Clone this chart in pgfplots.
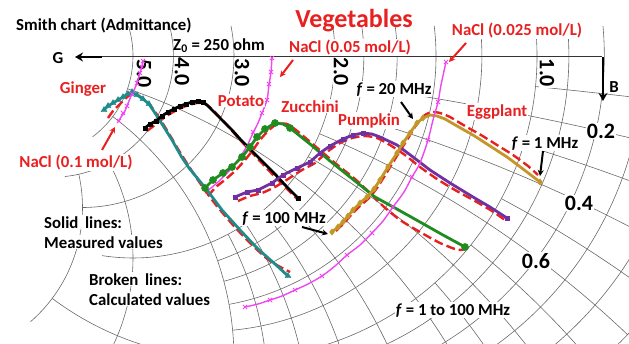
\documentclass[border=0pt]{standalone}
\usepackage{pgfplots}
\pgfplotsset{compat=1.18}
\usepackage{fontspec}
\setmainfont{Carlito}
\usetikzlibrary{arrows.meta}

\definecolor{tealc}{RGB}{31,139,139}
\definecolor{zucc}{RGB}{32,140,32}
\definecolor{pump}{RGB}{112,48,160}
\definecolor{eggc}{RGB}{196,150,40}
\definecolor{calc}{RGB}{232,32,32}
\definecolor{nacl}{RGB}{240,70,240}
\definecolor{labred}{RGB}{232,32,32}
\definecolor{gridc}{RGB}{105,105,105}

\tikzset{
  gridl/.style={draw=gridc, line width=0.6pt},
  lab/.style={font=\fontsize{16.8}{19}\selectfont\bfseries, inner sep=1pt, fill=white},
  num/.style={font=\fontsize{22}{24}\selectfont\bfseries, inner sep=1pt, fill=white},
}

% Smith chart (admittance): centre at (537,56), unit radius 606 (1 unit = 1pt)
% constant-G circle, from 30pt above the real axis down to susceptance #2
\newcommand\garc[2]{%
  \draw[gridl] (axis cs:537,56)
    ++(canvas cs:x={(-606*(#1)+606*cos(asin(30*(1+(#1))/606)))/(1+(#1))*1pt}, y=30pt)
    arc[start angle={asin(30*(1+(#1))/606)}, end angle={-2*atan((#2)/(1+(#1)))}, radius={606/(1+(#1))*1pt}];}
% constant-B arc #1, from conductance #2 to conductance #3
\newcommand\barc[3]{%
  \draw[gridl] (axis cs:537,56)
    ++(canvas cs:x={(-606+606/(#1)*cos(90-2*atan((#1)/(1+(#2)))))*1pt}, y={606/(#1)*(sin(90-2*atan((#1)/(1+(#2))))-1)*1pt})
    arc[start angle={90-2*atan((#1)/(1+(#2)))}, end angle={90-2*atan((#1)/(1+(#3)))}, radius={606/(#1)*1pt}];}

\begin{document}
\begin{tikzpicture}
\begin{axis}[x=1pt, y=1pt, xmin=0, xmax=629, ymin=0, ymax=343, y dir=reverse,
  hide axis, clip=true]
\coordinate (LL) at (axis cs:0,343);
\coordinate (UR) at (axis cs:629,0);

% ---- chart grid ----
\garc{5}{3} \garc{4}{4.5} \garc{3}{4} \garc{2}{3.5}
\garc{1.8}{2} \garc{1.6}{2} \garc{1.4}{2} \garc{1.2}{2}
\garc{1}{4}
\garc{0.9}{2} \garc{0.8}{2} \garc{0.7}{2} \garc{0.6}{2} \garc{0.5}{2}
\barc{0.1}{0.5}{1} \barc{0.2}{0.5}{1.6} \barc{0.3}{0.5}{1} \barc{0.4}{0.5}{2}
\barc{0.5}{0.5}{1} \barc{0.6}{0.5}{2} \barc{0.7}{0.5}{1} \barc{0.8}{0.5}{2}
\barc{0.9}{0.5}{1} \barc{1}{0.5}{5}
\barc{1.2}{0.5}{2} \barc{1.4}{0.5}{2} \barc{1.6}{0.5}{2} \barc{1.8}{0.5}{2}
\barc{2}{0.5}{5} \barc{3}{0.5}{4} \barc{4}{0.5}{4}

% real axis and G / B arrows
\draw[black!80, line width=0.8pt] (axis cs:100,56) -- (axis cs:602,56);
\draw[black, line width=2.6pt, -{Stealth[length=8pt,width=9pt]}] (axis cs:102,57) -- (axis cs:75,57);
\draw[black, line width=2.6pt, -{Stealth[length=8pt,width=9pt]}] (axis cs:603,57) -- (axis cs:603,101);

% scale labels
\node[num, rotate=-90] at (axis cs:144,74) {5.0};
\node[num, rotate=-90] at (axis cs:182,72) {4.0};
\node[num, rotate=-90] at (axis cs:242,73) {3.0};
\node[num, rotate=-90] at (axis cs:341,72) {2.0};
\node[num, rotate=-90] at (axis cs:547,73) {1.0};
\node[num, anchor=base] at (axis cs:601,138) {0.2};
\node[num, anchor=base] at (axis cs:579,210) {0.4};
\node[num, anchor=base] at (axis cs:536,268) {0.6};

% ---- NaCl 0.05 mol/L ----
\addplot[nacl, line width=1.4pt, smooth] coordinates {(272,57) (271,72) (269,85) (267,100) (262,113) (258,123) (253,133) (247,146) (240,157) (230,170) (218,182) (205,193)};
\addplot[nacl, only marks, mark=x, mark size=3pt, line width=1pt] coordinates {(272,58) (271,72) (269,84) (267,100) (262,113) (253,132) (247,147)};

% ---- calculated values (broken lines) ----
\addplot[calc, line width=2.4pt, dash pattern=on 9pt off 4pt, smooth, tension=0.4] coordinates {(108,118) (113,111) (119,105) (125,99) (130,95) (136,94) (143,99) (150,105) (158,116) (168,132) (178,149) (190,168) (202,186) (216,205) (233,225) (251,244) (270,261) (290,272)};
\addplot[calc, line width=2.4pt, dash pattern=on 9pt off 4pt, smooth, tension=0.4] coordinates {(147,131) (155,125) (165,117) (175,111) (186,106) (197,103) (205,104) (212,109) (226,124) (242,142) (258,159) (275,177) (290,192) (297,199)};
\addplot[calc, line width=2.4pt, dash pattern=on 9pt off 4pt, smooth, tension=0.4] coordinates {(208,196) (216,187) (226,179) (236,170) (245,160) (253,150) (260,140) (268,131) (277,124) (287,124) (296,130) (315,146) (335,163) (355,179) (370,193) (383,206) (400,220) (420,232) (440,243) (458,250) (465,249)};
\addplot[calc, line width=2.4pt, dash pattern=on 9pt off 4pt, smooth, tension=0.4] coordinates {(238,201) (250,196) (262,193) (275,187) (288,179) (302,170) (315,163) (327,152) (340,143) (352,138) (365,136) (377,138) (390,145) (405,155) (420,167) (437,179) (455,190) (475,201) (492,211) (505,220)};
\addplot[calc, line width=2.4pt, dash pattern=on 9pt off 4pt, smooth, tension=0.4] coordinates {(336,231) (344,223) (352,214) (360,206) (369,198) (377,188) (384,177) (392,164) (400,151) (407,140) (413,130) (419,121) (425,115) (432,112) (440,113) (450,117) (465,126) (481,135) (497,145) (513,155) (528,166) (538,175)};

% ---- measured values (solid lines) ----
% Ginger
\addplot[tealc, line width=2.8pt] coordinates {(104,110) (108,106) (113,103) (118,100) (123,97) (128,94) (132,92) (137,95) (143,99) (149,104) (153,110) (162,124) (172,140) (181,156) (189,168) (198,179) (207,190) (222,210) (240,230) (258,249) (275,264) (288,276)};
\addplot[tealc, only marks, mark=triangle*, mark size=3.4pt] coordinates {(104,110) (108,106) (113,103) (118,100) (123,97) (128,94) (132,92) (137,95) (143,99) (149,104) (288,276)};
% Potato
\addplot[black, line width=2.8pt] coordinates {(145,128) (150,124) (156,121) (162,116) (168,112) (174,109) (180,106) (186,104) (192,102) (198,101) (203,102) (207,105) (215,113) (223,121) (232,130) (240,139) (250,149) (262,161) (274,173) (286,186) (298,198)};
\addplot[black, only marks, mark=square*, mark size=2.2pt] coordinates {(145,128) (150,124) (156,121) (162,116) (168,112) (174,109) (180,106) (186,104) (192,102) (198,101) (203,102) (298,198)};
% Zucchini
\addplot[zucc, line width=2.8pt] coordinates {(205,188) (213,180) (223,173) (232,167) (242,157) (250,147) (257,137) (265,129) (275,123) (283,124) (290,128) (310,144) (330,161) (350,177) (365,189) (375,197) (395,208) (420,222) (443,235) (465,247)};
\addplot[zucc, only marks, mark=*, mark size=3.6pt] coordinates {(205,188) (213,180) (223,173) (232,167) (242,157) (250,147) (257,137) (265,129) (275,123) (290,128) (465,247)};
% Pumpkin
\addplot[pump, line width=2.8pt] coordinates {(235,197) (247,192) (258,190) (272,183) (283,175) (297,168) (310,162) (320,153) (330,146) (343,139) (353,135) (363,133) (372,134) (380,137) (397,145) (413,157) (430,170) (450,183) (473,197) (490,207) (507,218)};
\addplot[pump, only marks, mark=square*, mark size=2.3pt] coordinates {(235,197) (247,192) (258,190) (272,183) (283,175) (297,168) (310,162) (320,153) (330,146) (343,139) (353,135) (363,133) (507,218)};
% Eggplant
\addplot[eggc, line width=2.8pt] coordinates {(332,232) (338,227) (343,222) (348,216) (353,210) (360,203) (367,197) (374,189) (380,180) (388,167) (397,153) (403,143) (410,133) (417,123) (423,118) (430,115) (437,116) (445,119) (457,126) (473,135) (490,146) (507,157) (523,169) (540,182)};
\addplot[eggc, only marks, mark=diamond*, mark size=3.2pt] coordinates {(332,232) (338,227) (343,222) (348,216) (353,210) (360,203) (367,197) (374,189) (380,180) (388,167) (397,153) (403,143) (410,133) (417,123) (423,118) (540,182)};

% ---- NaCl 0.1 and 0.025 mol/L ----
\addplot[nacl, line width=1.4pt, smooth] coordinates {(143,60) (142,66) (140,73) (137,83) (135,88) (132,94) (129,101) (127,106) (124,113) (121,117) (118,122)};
\addplot[nacl, only marks, mark=x, mark size=3pt, line width=1pt] coordinates {(143,61) (142,67) (140,73) (137,83) (132,94) (127,106) (123,113) (119,121)};
\addplot[nacl, line width=1.4pt, smooth] coordinates {(446,62) (441,85) (438,102) (433,120) (428,140) (420,163) (412,177) (404,192) (393,207) (383,221) (372,233) (360,245) (347,255) (335,266) (322,276) (308,284) (295,290) (282,296) (270,300) (258,304) (245,307)};
\addplot[nacl, only marks, mark=x, mark size=3pt, line width=1pt] coordinates {(446,62) (438,102) (428,140) (412,177) (393,207) (372,233) (347,255) (322,276) (295,290) (270,300) (245,307)};

% ---- titles and labels ----
\node[lab, anchor=base west, fill=none] at (axis cs:15,30) {Smith chart (Admittance)};
\node[font=\fontsize{26}{28}\selectfont\bfseries, text=labred, anchor=base, inner sep=0pt] at (axis cs:354,27) {Vegetables};
\node[lab, anchor=base, fill=none] at (axis cs:219,50) {Z\textsubscript{0} = 250 ohm};
\node[lab, anchor=base, fill=none] at (axis cs:58,63) {G};
\node[lab, anchor=base, fill=none] at (axis cs:614,92) {B};
\node[lab, anchor=base, text=labred] at (axis cs:350,52) {NaCl (0.05 mol/L)};
\node[lab, anchor=base, text=labred] at (axis cs:517,35) {NaCl (0.025 mol/L)};
\node[lab, anchor=base, text=labred] at (axis cs:83,93) {Ginger};
\node[lab, anchor=base, text=labred] at (axis cs:76,167) {NaCl (0.1 mol/L)};
\node[lab, anchor=base, text=labred] at (axis cs:241,106) {Potato};
\node[lab, anchor=base, text=labred] at (axis cs:310,112) {Zucchini};
\node[lab, anchor=base, text=labred] at (axis cs:369,125) {Pumpkin};
\node[lab, anchor=base, text=labred] at (axis cs:497,116) {Eggplant};
\node[lab, anchor=base] at (axis cs:394,94) {\textit{f} = 20 MHz};
\node[lab, anchor=base] at (axis cs:545,148) {\textit{f} = 1 MHz};
\node[lab, anchor=base] at (axis cs:284,223) {\textit{f} = 100 MHz};
\node[lab, anchor=base] at (axis cs:453,315) {\textit{f} = 1 to 100 MHz};
\node[lab, anchor=base west] at (axis cs:43,228) {Solid\, lines:};
\node[lab, anchor=base west] at (axis cs:43,248) {Measured values};
\node[lab, anchor=base west] at (axis cs:88,285) {Broken\, lines:};
\node[lab, anchor=base west] at (axis cs:88,305) {Calculated values};

% pointer arrows
\draw[labred, line width=2pt, -{Stealth[length=6pt,width=6pt]}] (axis cs:293,60) -- (axis cs:280,77);
\draw[labred, line width=2pt, -{Stealth[length=6pt,width=6pt]}] (axis cs:466,43) -- (axis cs:449,62);
\draw[labred, line width=2pt, -{Stealth[length=6pt,width=6pt]}] (axis cs:102,150) -- (axis cs:115,127);
\draw[black, line width=2pt, -{Stealth[length=6pt,width=6pt]}] (axis cs:401,102) -- (axis cs:413,119);
\draw[black, line width=2pt, -{Stealth[length=6pt,width=6pt]}] (axis cs:543,151) -- (axis cs:540,176);
\draw[black, line width=2pt, -{Stealth[length=6pt,width=6pt]}] (axis cs:302,227) -- (axis cs:328,234);
\end{axis}
\pgfresetboundingbox
\path[use as bounding box] (LL) rectangle (UR);
\end{tikzpicture}
\end{document}
